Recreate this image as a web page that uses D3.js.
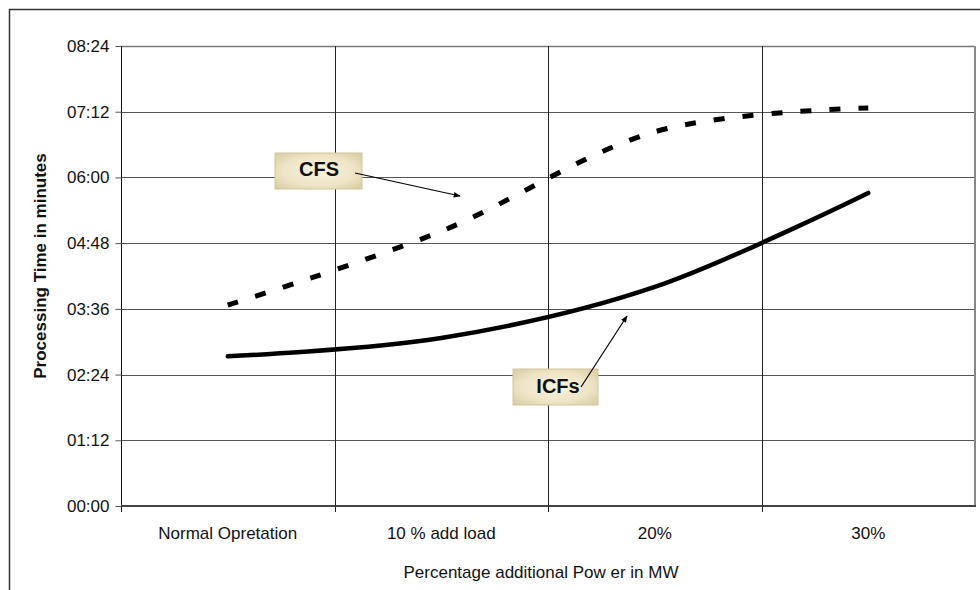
<!DOCTYPE html>
<html>
<head>
<meta charset="utf-8">
<script src="https://cdn.jsdelivr.net/npm/d3@7"></script>
<style>
  html, body { margin: 0; padding: 0; background: #fff; }
  svg { display: block; font-family: "Liberation Sans", Arial, sans-serif; }
</style>
</head>
<body>
<svg id="chart" width="980" height="590"></svg>
<script>
// ---- data (times in seconds) ----
const categories = ["Normal Opretation", "10 % add load", "20%", "30%"];
const cfsValues  = [220, 301, 410, 436];   // CFS  (≈03:40, 05:01, 06:50, 07:16)
const icfsValues = [164, 184, 240, 343];   // ICFs (≈02:44, 03:04, 04:00, 05:43)
const yTickValues = [0, 72, 144, 216, 288, 360, 432, 504];
const seriesNames = ["CFS", "ICFs"];
const xTitle = "Percentage additional Pow er in MW";
const yTitle = "Processing Time in minutes";

const svg = d3.select("#chart");
const W = 980, H = 590;
const plot = { left: 121, right: 975, top: 46, bottom: 506 };
const FONT = "'Liberation Sans', Arial, sans-serif";

svg.append("rect").attr("width", W).attr("height", H).attr("fill", "#fff");

// outer frame (extends past the right/bottom edge as in the reference)
svg.append("path")
  .attr("d", `M9.5,${H + 5} V9.5 H${W + 5}`)
  .attr("fill", "none").attr("stroke", "#333").attr("stroke-width", 1.5);

const x = d3.scaleBand().domain(categories).range([plot.left, plot.right]).paddingInner(0).paddingOuter(0);
const y = d3.scaleLinear().domain([0, 504]).range([plot.bottom, plot.top]);

const fmt = s => String(Math.floor(s / 60)).padStart(2, "0") + ":" + String(s % 60).padStart(2, "0");

// horizontal gridlines
svg.append("g").selectAll("line").data(yTickValues.slice(1)).join("line")
  .attr("x1", plot.left).attr("x2", plot.right)
  .attr("y1", d => Math.round(y(d)) + 0.5).attr("y2", d => Math.round(y(d)) + 0.5)
  .attr("stroke", d => d === 504 ? "#777" : "#555").attr("stroke-width", d => d === 504 ? 1.5 : 1);

// vertical gridlines at category boundaries
const bounds = categories.slice(1).map(c => x(c));
svg.append("g").selectAll("line").data(bounds).join("line")
  .attr("x1", d => Math.round(d) + 0.5).attr("x2", d => Math.round(d) + 0.5)
  .attr("y1", plot.top).attr("y2", plot.bottom)
  .attr("stroke", "#222").attr("stroke-width", 1);

// right plot border
svg.append("line")
  .attr("x1", plot.right).attr("x2", plot.right)
  .attr("y1", plot.top).attr("y2", plot.bottom + 1)
  .attr("stroke", "#888").attr("stroke-width", 2);

// y axis
const yAxis = d3.axisLeft(y).tickValues(yTickValues).tickFormat(fmt).tickSize(6).tickPadding(6);
const gy = svg.append("g").attr("transform", `translate(${plot.left + 0.5},0)`).call(yAxis);
gy.select(".domain").attr("stroke", "#111").attr("d", `M0,${plot.top}V${plot.bottom}`);
gy.selectAll(".tick line").attr("stroke", "#555");
gy.selectAll(".tick text").attr("font-size", 17).attr("fill", "#111").attr("font-family", FONT);

// x axis
const xAxis = d3.axisBottom(x).tickSize(0).tickPadding(21);
const gx = svg.append("g").attr("transform", `translate(0,${plot.bottom})`).call(xAxis);
gx.select(".domain").attr("stroke", "#444").attr("stroke-width", 2)
  .attr("d", `M${plot.left},0H${plot.right + 1}`);
gx.selectAll(".tick text").attr("font-size", 17).attr("fill", "#111").attr("font-family", FONT);
// x boundary ticks
svg.append("g").selectAll("line").data([plot.left, ...bounds]).join("line")
  .attr("x1", d => Math.round(d) + 0.5).attr("x2", d => Math.round(d) + 0.5)
  .attr("y1", plot.bottom).attr("y2", plot.bottom + 6)
  .attr("stroke", "#222");

// axis titles
svg.append("text").attr("x", 541).attr("y", 578)
  .attr("text-anchor", "middle").attr("font-size", 17).attr("fill", "#111").text(xTitle);
svg.append("text").attr("transform", `translate(46,266) rotate(-90)`)
  .attr("text-anchor", "middle").attr("font-size", 17).attr("font-weight", "bold").attr("fill", "#111")
  .text(yTitle);

// lines
const line = d3.line()
  .x((d, i) => x(categories[i]) + x.bandwidth() / 2)
  .y(d => y(d))
  .curve(d3.curveCardinal.tension(0));

svg.append("path").datum(cfsValues).attr("d", line)
  .attr("fill", "none").attr("stroke", "#000").attr("stroke-width", 5)
  .attr("stroke-dasharray", "11,18");
svg.append("path").datum(icfsValues).attr("d", line)
  .attr("fill", "none").attr("stroke", "#000").attr("stroke-width", 4.5)
  .attr("stroke-linecap", "round").attr("stroke-linejoin", "round");

// annotations
const defs = svg.append("defs");
const grad = defs.append("radialGradient").attr("id", "beige").attr("cx", "50%").attr("cy", "50%").attr("r", "75%");
grad.append("stop").attr("offset", "0%").attr("stop-color", "#f8f3e2");
grad.append("stop").attr("offset", "55%").attr("stop-color", "#eee4c6");
grad.append("stop").attr("offset", "100%").attr("stop-color", "#d4c69a");
defs.append("marker").attr("id", "arrow").attr("viewBox", "0 0 10 10")
  .attr("refX", 9).attr("refY", 5).attr("markerWidth", 7).attr("markerHeight", 7)
  .attr("orient", "auto-start-reverse").attr("markerUnits", "userSpaceOnUse")
  .append("path").attr("d", "M0,1 L10,5 L0,9 Z").attr("fill", "#000");

const notes = [
  { name: seriesNames[0], bx: 275, by: 153, bw: 87, bh: 36, tx: 319, ty: 176, ax1: 355, ay1: 173, ax2: 460, ay2: 196 },
  { name: seriesNames[1], bx: 513, by: 369, bw: 85, bh: 36, tx: 558, ty: 393, ax1: 581, ay1: 387, ax2: 627, ay2: 316 }
];
notes.forEach(n => {
  svg.append("rect").attr("x", n.bx).attr("y", n.by).attr("width", n.bw).attr("height", n.bh)
    .attr("fill", "url(#beige)").attr("stroke", "#d2c59a").attr("stroke-width", 1);
  svg.append("text").attr("x", n.tx).attr("y", n.ty)
    .attr("text-anchor", "middle").attr("font-size", 20).attr("font-weight", "bold").attr("fill", "#111")
    .text(n.name);
  svg.append("line").attr("x1", n.ax1).attr("y1", n.ay1).attr("x2", n.ax2).attr("y2", n.ay2)
    .attr("stroke", "#000").attr("stroke-width", 1.2).attr("marker-end", "url(#arrow)");
});
</script>
</body>
</html>
